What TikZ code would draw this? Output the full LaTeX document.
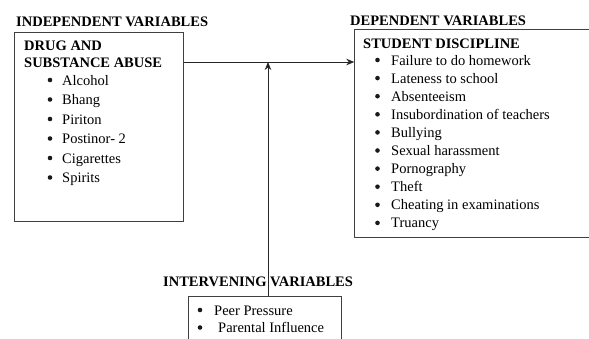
\documentclass[tikz,border=0pt]{standalone}
\usepackage{fontspec}
\setmainfont{Liberation Serif}
\usetikzlibrary{arrows.meta}
\tikzset{
  box/.style={draw=black!75, line width=0.9pt, inner sep=0pt, anchor=north west},
  head/.style={font=\fontsize{14.5}{17}\selectfont\bfseries, inner sep=0pt, anchor=base west},
  item/.style={font=\fontsize{14.5}{17}\selectfont, inner sep=0pt, anchor=base west},
  bul/.style={circle, fill=black!90, inner sep=0pt, minimum size=4.6pt},
  arr/.style={draw=black!85, line width=0.9pt, -{Stealth[length=8pt,width=6.5pt]}}
}
\begin{document}
\begin{tikzpicture}[x=1pt,y=-1pt]
\useasboundingbox (0,0) rectangle (589,338);
\clip (0,0) rectangle (589,338);
% boxes
\node[box, minimum width=169pt, minimum height=189pt] (lbox) at (14,32) {};
\node[box, minimum width=250pt, minimum height=208pt] (rbox) at (354.3,29.3) {};
\node[box, minimum width=153pt, minimum height=60pt] (ibox) at (187.7,295.5) {};
% headings
\node[head] (indep) at (16,26) {INDEPENDENT VARIABLES};
\node[head] (dep) at (350,25.5) {DEPENDENT VARIABLES};
\node[head] (interv) at (163,286) {INTERVENING VARIABLES};
\node[head] (drug1) at (24,50) {DRUG AND};
\node[head] (drug2) at (24,67) {SUBSTANCE ABUSE};
\node[head] (stud) at (363,48) {STUDENT DISCIPLINE};
% left items
\foreach \t [count=\i] in {Alcohol,Bhang,Piriton,Postinor- 2,Cigarettes,Spirits}{
  \node[bul] (lb\i) at (50,{85+19.5*(\i-1)-5}) {};
  \node[item] (li\i) at (62,{85+19.5*(\i-1)}) {\t};
}
% right items
\foreach \t [count=\i] in {Failure to do homework,Lateness to school,Absenteeism,Insubordination of teachers,Bullying,Sexual harassment,Pornography,Theft,Cheating in examinations,Truancy}{
  \node[bul] (rb\i) at (377.5,{65+18.1*(\i-1)-5}) {};
  \node[item] (ri\i) at (391,{65+18.1*(\i-1)}) {\t};
}
% intervening items
\node[bul] (ib1) at (200,310) {};
\node[item] (ii1) at (214,315) {Peer Pressure};
\node[bul] (ib2) at (200,327.5) {};
\node[item] (ii2) at (218,332.5) {Parental Influence};
% connectors
\coordinate (join) at (268,62);
\draw[arr] (lbox.east |- join) -- (rbox.west |- join);
\draw[arr] (ibox.north -| join) -- (join);
\end{tikzpicture}
\end{document}
